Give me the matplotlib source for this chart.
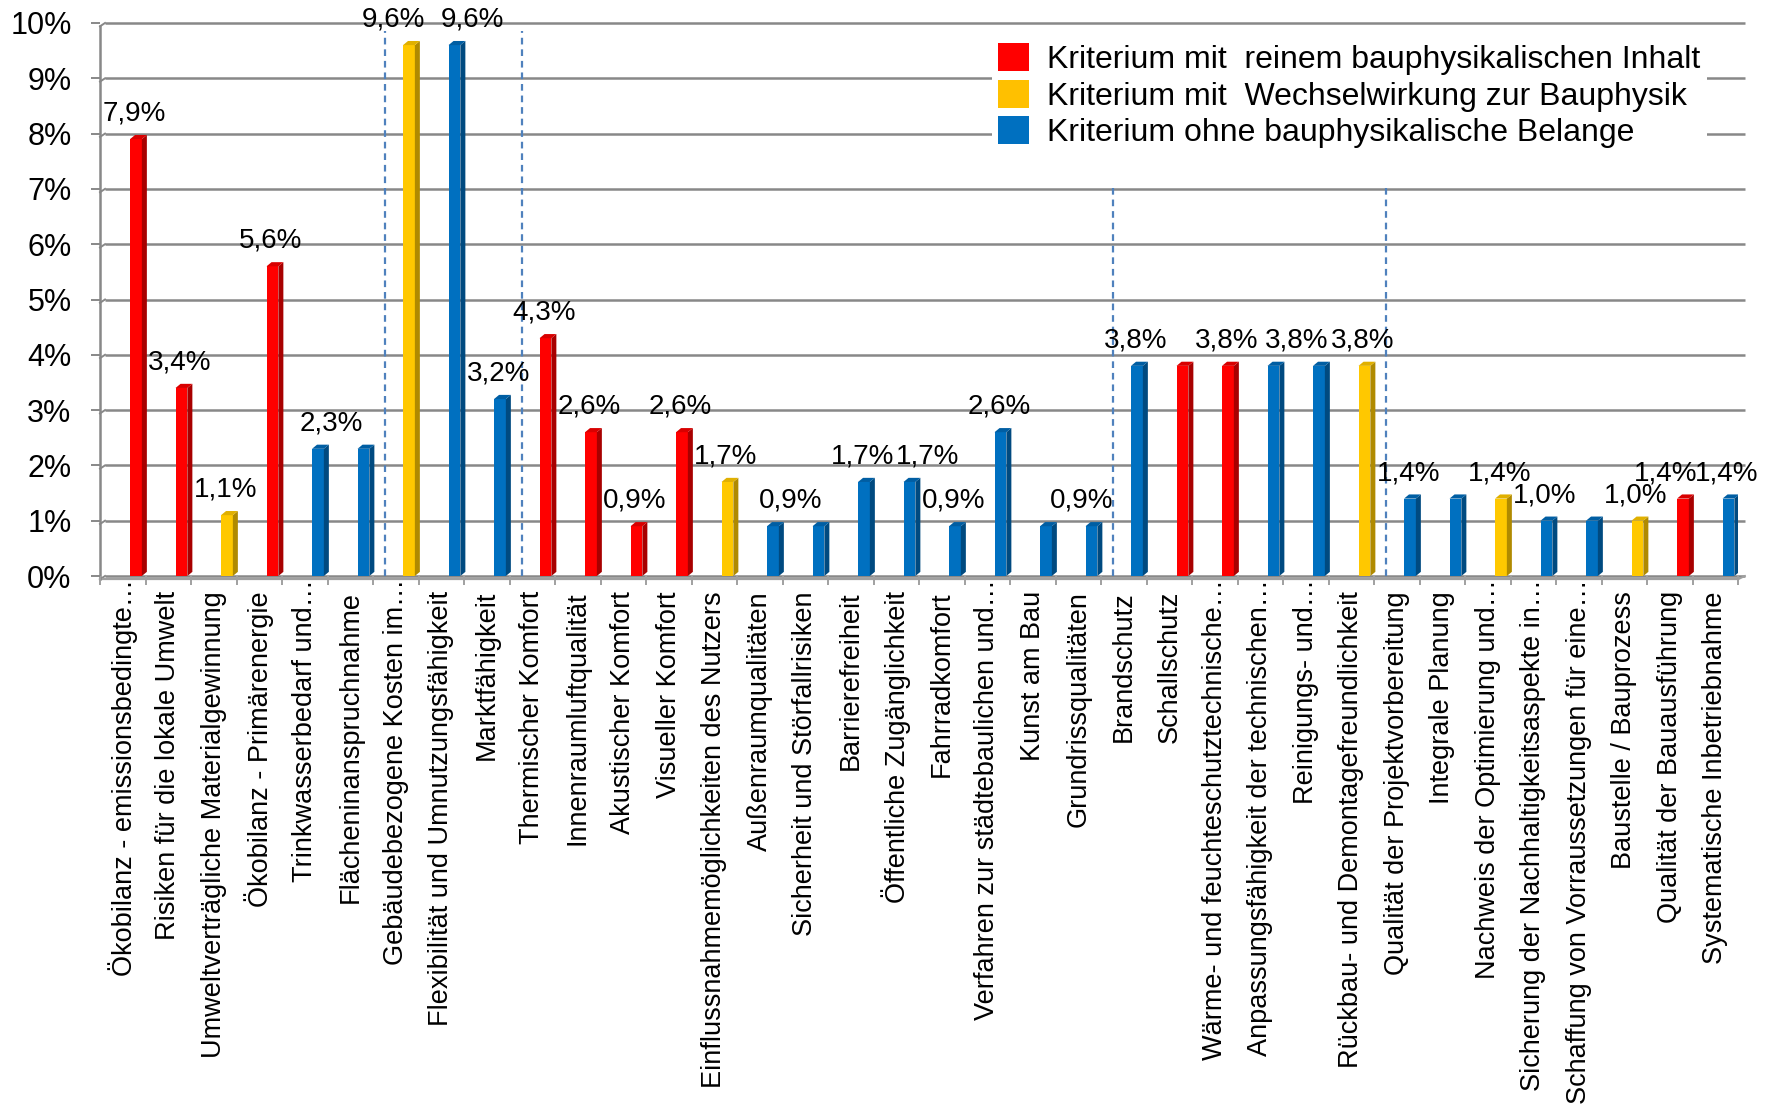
import numpy as np
import matplotlib
matplotlib.use("Agg")
import matplotlib.pyplot as plt
from matplotlib.patches import Polygon, Patch

plt.rcParams['font.family'] = ['Liberation Sans', 'DejaVu Sans']

categories = [
    "Ökobilanz - emissionsbedingte…",
    "Risiken für die lokale Umwelt",
    "Umweltverträgliche Materialgewinnung",
    "Ökobilanz - Primärenergie",
    "Trinkwasserbedarf und…",
    "Flächeninanspruchnahme",
    "Gebäudebezogene Kosten im…",
    "Flexibilität und Umnutzungsfähigkeit",
    "Marktfähigkeit",
    "Thermischer Komfort",
    "Innenraumluftqualität",
    "Akustischer Komfort",
    "Visueller Komfort",
    "Einflussnahmemöglichkeiten des Nutzers",
    "Außenraumqualitäten",
    "Sicherheit und Störfallrisiken",
    "Barrierefreiheit",
    "Öffentliche Zugänglichkeit",
    "Fahrradkomfort",
    "Verfahren zur städtebaulichen und…",
    "Kunst am Bau",
    "Grundrissqualitäten",
    "Brandschutz",
    "Schallschutz",
    "Wärme- und feuchteschutztechnische…",
    "Anpassungsfähigkeit der technischen…",
    "Reinigungs- und…",
    "Rückbau- und Demontagefreundlichkeit",
    "Qualität der Projektvorbereitung",
    "Integrale Planung",
    "Nachweis der Optimierung und…",
    "Sicherung der Nachhaltigkeitsaspekte in…",
    "Schaffung von Vorraussetzungen für eine…",
    "Baustelle / Bauprozess",
    "Qualität der Bauausführung",
    "Systematische Inbetriebnahme",
]

values = [7.9, 3.4, 1.1, 5.6, 2.3, 2.3, 9.6, 9.6, 3.2, 4.3, 2.6, 0.9, 2.6, 1.7,
          0.9, 0.9, 1.7, 1.7, 0.9, 2.6, 0.9, 0.9, 3.8, 3.8, 3.8, 3.8, 3.8, 3.8,
          1.4, 1.4, 1.4, 1.0, 1.0, 1.0, 1.4, 1.4]

groups = ["rein", "rein", "wechsel", "rein", "ohne", "ohne", "wechsel", "ohne",
          "ohne", "rein", "rein", "rein", "rein", "wechsel", "ohne", "ohne",
          "ohne", "ohne", "ohne", "ohne", "ohne", "ohne", "ohne", "rein",
          "rein", "ohne", "ohne", "wechsel", "ohne", "ohne", "wechsel", "ohne",
          "ohne", "wechsel", "rein", "ohne"]

legend_labels = {
    "rein": "Kriterium mit  reinem bauphysikalischen Inhalt",
    "wechsel": "Kriterium mit  Wechselwirkung zur Bauphysik",
    "ohne": "Kriterium ohne bauphysikalische Belange",
}

# bars that carry a value label (as in the reference)
labeled_bars = [0, 1, 2, 3, 4, 6, 7, 8, 9, 10, 11, 12, 13, 14, 16, 17, 18, 19,
                21, 22, 24, 25, 27, 28, 30, 31, 33, 34, 35]
# horizontal nudges of those labels (style)
label_nudge = [0, 0, 0, 0, 0.32, -0.31, 0.44, 0, 0, 0, 0, 0, 0, 0.43, 0, 0.43,
               0, 0, -0.17, 0, 0, 0.54, 0, 0, 0, 0, 0, -0.34, 0]

# dashed separators after these bar indices, with their top value
divider_after = [5, 8, 21, 27]
divider_top = [9.85, 9.85, 7.05, 7.05]

yticks = [0, 1, 2, 3, 4, 5, 6, 7, 8, 9, 10]
ytick_labels = ["0%", "1%", "2%", "3%", "4%", "5%", "6%", "7%", "8%", "9%", "10%"]

front_col = {"rein": "#ff0000", "wechsel": "#ffc800", "ohne": "#0070c0"}
side_col = {"rein": "#a80000", "wechsel": "#b08a00", "ohne": "#004a80"}
top_col = {"rein": "#d80000", "wechsel": "#e0b000", "ohne": "#005ea3"}
legend_col = {"rein": "#ff0000", "wechsel": "#ffc000", "ohne": "#0070c0"}

W, H = 1777, 1108
fig = plt.figure(figsize=(W / 100, H / 100), dpi=100)
ax = fig.add_axes([100 / W, 1 - 576 / H, 1638 / W, (576 - 23) / H])

n = len(values)
x = np.arange(n)
ax.set_xlim(-0.5, n - 0.5)
ax.set_ylim(0, 10)

grid_c = "#888888"
# back-wall gridlines
for yv in yticks:
    ax.plot([-0.39, n - 0.5 + 0.15], [yv, yv], color=grid_c, lw=1.8,
            zorder=1, clip_on=False, solid_capstyle='butt')
    ax.plot([-0.5, -0.39], [yv - 0.06, yv], color=grid_c, lw=1.4,
            zorder=1, clip_on=False)
# floor front edge
ax.plot([-0.5, n - 0.5], [-0.06, -0.06], color="#a0a0a0", lw=1.6,
        zorder=1, clip_on=False)
ax.plot([n - 0.5, n - 0.5 + 0.15], [-0.06, 0], color="#a0a0a0", lw=1.4,
        zorder=1, clip_on=False)
# y axis
ax.plot([-0.5, -0.5], [-0.06, 9.94], color=grid_c, lw=1.8, zorder=1,
        clip_on=False)

# dashed separators
for k, top in zip(divider_after, divider_top):
    xd = k + 0.5 + 0.27
    ax.plot([xd, xd], [0, top], color="#4f81bd", lw=1.6,
            linestyle=(0, (3.0, 2.2)), zorder=2, clip_on=False)

# 3D-style bars
off, w, ddx, ddy = 0.29, 0.26, 0.11, 0.075
ax.bar(x + off, values, width=w, color=[front_col[g] for g in groups],
       linewidth=0, zorder=3)
for xi, v, g in zip(x, values, groups):
    xr = xi + off + w / 2
    xl = xi + off - w / 2
    ax.add_patch(Polygon([(xr, 0), (xr, v), (xr + ddx, v + ddy), (xr + ddx, ddy)],
                         closed=True, fc=side_col[g], ec='none', zorder=3))
    ax.add_patch(Polygon([(xl, v), (xr, v), (xr + ddx, v + ddy), (xl + ddx, v + ddy)],
                         closed=True, fc=top_col[g], ec='none', zorder=3))

# value labels
for i, nud in zip(labeled_bars, label_nudge):
    v = values[i]
    txt = f"{v:.1f}".replace(".", ",") + "%"
    ax.text(i + 0.255 + nud, v + 0.46, txt, ha='center', va='center',
            fontsize=20, color='black', zorder=5, clip_on=False)

# axes styling
for s in ax.spines.values():
    s.set_visible(False)
ax.set_yticks(yticks)
ax.set_yticklabels(ytick_labels, fontsize=22)
ax.tick_params(axis='y', length=6.5, width=1.4, color=grid_c, pad=14)
ax.set_xticks(np.arange(n + 1) - 0.5)
ax.set_xticklabels([])
ax.tick_params(axis='x', length=6.5, width=1.4, color="#a0a0a0")

# category labels (rotated, end of text at the axis)
for i, cat in enumerate(categories):
    shift = 2.2 if cat.endswith("…") else 10.8
    ax.annotate(cat, xy=(i, 0), xycoords=('data', 'axes fraction'),
                xytext=(0, -shift), textcoords='offset points',
                rotation=90, ha='center', va='top', fontsize=19.5,
                annotation_clip=False)

# legend
handles = [Patch(facecolor=legend_col[k], edgecolor='none') for k in ["rein", "wechsel", "ohne"]]
leg = fig.legend(handles, [legend_labels[k] for k in ["rein", "wechsel", "ohne"]],
                 loc='upper left', bbox_to_anchor=(976 / W, 1 - 21 / H),
                 fontsize=23, frameon=True, facecolor='white', edgecolor='none',
                 framealpha=1, borderpad=0.2, handlelength=0.97, handleheight=0.97,
                 handletextpad=0.55, labelspacing=0.14, fancybox=False)
leg.set_zorder(10)

fig.savefig("out.png", dpi=100, facecolor='white')
